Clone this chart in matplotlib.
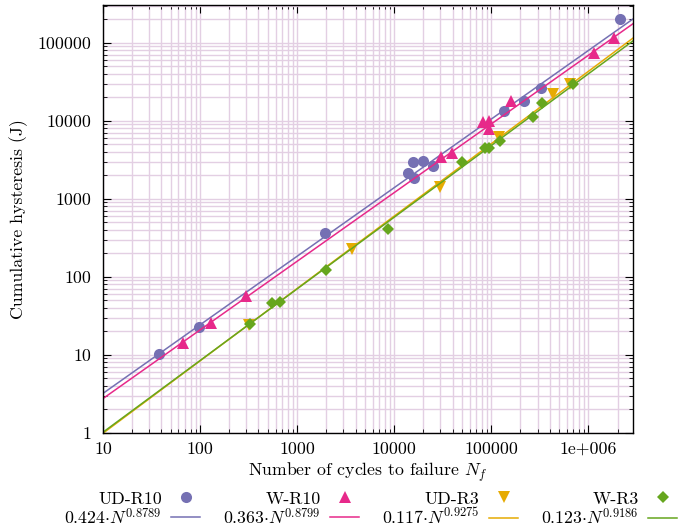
import numpy as np
import matplotlib.pyplot as plt
from matplotlib.ticker import FixedLocator, FixedFormatter, LogLocator, NullFormatter

plt.rcParams['font.family'] = 'cmr10'
plt.rcParams['mathtext.fontset'] = 'cm'
plt.rcParams['axes.formatter.use_mathtext'] = True

# UD-R10 (circles)
ud10_n = [38, 98, 1950, 14000, 16000, 15800, 20000, 25400, 134000, 219000, 327000, 2140000]
ud10_h = [10.2, 23, 363, 2140, 1840, 2950, 3070, 2670, 13400, 17700, 26200, 201000]

# W-R10 (triangles up)
w10_n = [67, 129, 298, 30500, 39900, 82000, 96000, 96000, 160000, 1135000, 1820000]
w10_h = [14.4, 25.5, 57.6, 3490, 3850, 9790, 10090, 7890, 17700, 73800, 115000]

# UD-R3 (triangles down)
ud3_n = [320, 3720, 29800, 119000, 433000, 650000]
ud3_h = [24, 226, 1440, 6170, 22200, 29500]

# W-R3 (diamonds)
w3_n = [327, 548, 668, 1990, 8610, 50600, 86700, 93800, 122000, 267000, 336000, 695000]
w3_h = [24.8, 46, 48.2, 123, 412, 3006, 4546, 4480, 5590, 11350, 16870, 29800]

# fit parameters  a * N^b
fit_a = [0.424, 0.363, 0.117, 0.123]
fit_b = [0.8789, 0.8799, 0.9275, 0.9186]

names = ['UD-R10', 'W-R10', 'UD-R3', 'W-R3']
colors = ['#7570b3', '#e7298a', '#e6ab02', '#66a61e']
markers = ['o', '^', 'v', 'D']
msizes = [8, 8, 8, 6.5]
series = [(ud10_n, ud10_h), (w10_n, w10_h), (ud3_n, ud3_h), (w3_n, w3_h)]

xticks = [10, 100, 1000, 10000, 100000, 1000000]
xticklabels = ['10', '100', '1000', '10000', '100000', '1e+006']
yticks = [1, 10, 100, 1000, 10000, 100000]
yticklabels = ['1', '10', '100', '1000', '10000', '100000']

fs = 12.8

fig = plt.figure(figsize=(6.86, 5.28), dpi=100)
ax = fig.add_axes([0.150, 0.180, 0.773, 0.8105])

xmin, xmax = 10, 2.9e6
nn = np.geomspace(xmin, xmax, 200)

handles = []
for (n, h), a, b, name, c, m, ms in zip(series, fit_a, fit_b, names, colors, markers, msizes):
    pts, = ax.plot(n, h, linestyle='none', marker=m, color=c, markersize=ms,
                   markeredgewidth=0, label=name)
    fit, = ax.plot(nn, a * nn ** b, color=c, linewidth=1.1,
                   label=r'$%.3f{\cdot}N^{%.4f}$' % (a, b))
    handles += [pts, fit]

ax.set_xscale('log')
ax.set_yscale('log')
ax.set_xlim(xmin, xmax)
ax.set_ylim(1, 3.05e5)

ax.xaxis.set_major_locator(FixedLocator(xticks))
ax.xaxis.set_major_formatter(FixedFormatter(xticklabels))
ax.yaxis.set_major_locator(FixedLocator(yticks))
ax.yaxis.set_major_formatter(FixedFormatter(yticklabels))
for axis in (ax.xaxis, ax.yaxis):
    axis.set_minor_locator(LogLocator(base=10, subs=np.arange(2, 10), numticks=20))
    axis.set_minor_formatter(NullFormatter())

ax.tick_params(which='both', direction='in', top=True, right=True, labelsize=fs)
ax.tick_params(which='major', length=6, width=0.8)
ax.tick_params(which='minor', length=3, width=0.6)
ax.tick_params(axis='y', pad=8)
ax.tick_params(axis='x', pad=6)
for s in ax.spines.values():
    s.set_linewidth(1.0)

ax.set_axisbelow(True)
ax.grid(which='both', color='#e3cfe3', linewidth=1.0)

ax.set_xlabel(r'Number of cycles to failure $N_f$', fontsize=fs, labelpad=3)
ax.set_ylabel('Cumulative hysteresis (J)', fontsize=fs, labelpad=7)

fig.legend(handles=handles, ncol=4, markerfirst=False, frameon=False,
           loc='lower center', bbox_to_anchor=(0.54, -0.022), fontsize=fs,
           handlelength=1.6, handletextpad=0.55, columnspacing=1.3,
           labelspacing=0.0, borderpad=0.2)

fig.savefig('out.png', dpi=100)
